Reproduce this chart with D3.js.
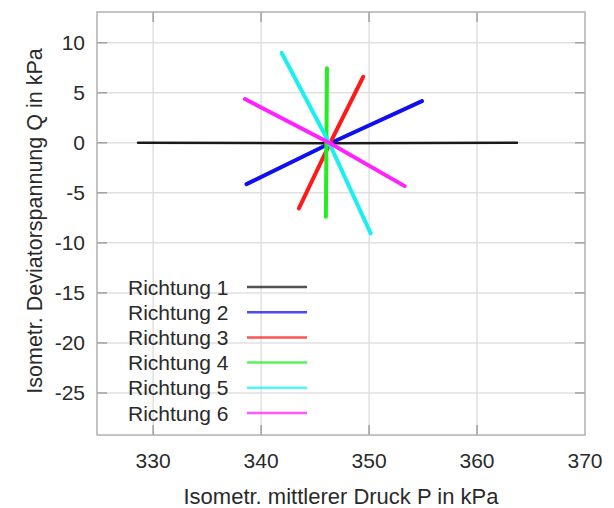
<!DOCTYPE html>
<meta charset="utf-8">
<style>
  body { margin: 0; background: #fff; }
  text { font-family: "Liberation Sans", Arial, sans-serif; fill: #2a2a2a; }
  .grid line { stroke: #e0e0e0; stroke-width: 1.5px; }
  .frame { fill: none; stroke: #b0b0b0; stroke-width: 1.5px; }
  .tick-mark { stroke: #a0a0a0; stroke-width: 1.5px; }
  .path { fill: none; stroke-linecap: round; stroke-linejoin: round; }
</style>
<svg width="614" height="508"></svg>
<script src="https://d3js.org/d3.v7.min.js"></script>
<script>
  // Data: [P, Q] points for each direction
  var names = ["Richtung 1", "Richtung 2", "Richtung 3", "Richtung 4", "Richtung 5", "Richtung 6"];
  var colors = ["#1a1a1a", "#1010ee", "#ff1a1a", "#22ee22", "#1af0f0", "#ff22ff"];
  var dir1 = [[328.6, 0.0], [346.3, -0.05], [363.7, 0.0]];
  var dir2 = [[338.65, -4.13], [346.3, -0.1], [354.9, 4.17]];
  var dir3 = [[343.5, -6.56], [346.4, 0.0], [349.46, 6.6]];
  var dir4 = [[346.0, -7.4], [346.05, 0.0], [346.1, 7.44]];
  var dir5 = [[341.9, 9.0], [346.3, 0.0], [350.15, -9.06]];
  var dir6 = [[338.5, 4.37], [346.3, 0.0], [353.3, -4.33]];
  var series = [dir1, dir2, dir3, dir4, dir5, dir6];
  var xTicks = [330, 340, 350, 360, 370];
  var yTicks = [10, 5, 0, -5, -10, -15, -20, -25];

  var svg = d3.select("svg");
  var margin = { top: 12, right: 29, bottom: 73, left: 97 },
    width = +svg.attr("width") - margin.left - margin.right,
    height = +svg.attr("height") - margin.top - margin.bottom;

  var x = d3.scaleLinear().domain([324.8, 370]).range([0, width]);
  var y = d3.scaleLinear().domain([-29.2, 13.07]).range([height, 0]);

  var g = svg.append("g")
    .attr("transform", "translate(" + margin.left + "," + margin.top + ")");

  // grid
  var grid = g.append("g").attr("class", "grid");
  grid.selectAll(".gx")
    .data(xTicks.filter(function (d) { return d < 370; }))
    .enter().append("line")
    .attr("x1", function (d) { return x(d); })
    .attr("x2", function (d) { return x(d); })
    .attr("y1", 0).attr("y2", height);
  grid.selectAll(".gy")
    .data(yTicks)
    .enter().append("line")
    .attr("y1", function (d) { return y(d); })
    .attr("y2", function (d) { return y(d); })
    .attr("x1", 0).attr("x2", width);

  // inward tick marks on all four sides
  var tl = 10;
  xTicks.filter(function (d) { return d < 370; }).forEach(function (d) {
    g.append("line").attr("class", "tick-mark")
      .attr("x1", x(d)).attr("x2", x(d)).attr("y1", height).attr("y2", height - tl);
    g.append("line").attr("class", "tick-mark")
      .attr("x1", x(d)).attr("x2", x(d)).attr("y1", 0).attr("y2", tl);
  });
  yTicks.forEach(function (d) {
    g.append("line").attr("class", "tick-mark")
      .attr("x1", 0).attr("x2", tl).attr("y1", y(d)).attr("y2", y(d));
    g.append("line").attr("class", "tick-mark")
      .attr("x1", width).attr("x2", width - tl).attr("y1", y(d)).attr("y2", y(d));
  });

  g.append("rect").attr("class", "frame")
    .attr("width", width).attr("height", height);

  // tick labels
  g.selectAll(".xl")
    .data(xTicks)
    .enter().append("text")
    .attr("x", function (d) { return x(d); })
    .attr("y", height + 33)
    .attr("text-anchor", "middle")
    .style("font-size", "21px")
    .text(function (d) { return d; });
  g.selectAll(".yl")
    .data(yTicks)
    .enter().append("text")
    .attr("x", -12)
    .attr("y", function (d) { return y(d) + 7.5; })
    .attr("text-anchor", "end")
    .style("font-size", "21px")
    .text(function (d) { return d; });

  // axis titles
  svg.append("text")
    .attr("x", 341)
    .attr("y", 504)
    .attr("text-anchor", "middle")
    .style("font-size", "22px")
    .text("Isometr. mittlerer Druck P in kPa");
  svg.append("text")
    .attr("transform", "translate(42,221) rotate(-90)")
    .attr("text-anchor", "middle")
    .style("font-size", "21.5px")
    .text("Isometr. Deviatorspannung Q in kPa");

  // data lines
  var line = d3.line()
    .x(function (d) { return x(d[0]); })
    .y(function (d) { return y(d[1]); });

  g.selectAll(".path")
    .data(series)
    .enter().append("path")
    .attr("class", "path")
    .attr("d", line)
    .attr("stroke", function (d, i) { return colors[i]; })
    .attr("stroke-width", function (d, i) { return i === 0 ? 2.5 : 4; });

  // legend
  var legend = g.append("g");
  names.forEach(function (n, i) {
    var ly = 275 + i * 25.2;
    legend.append("text")
      .attr("x", 31)
      .attr("y", ly + 7.5)
      .style("font-size", "21px")
      .text(n);
    legend.append("line")
      .attr("x1", 150).attr("x2", 210)
      .attr("y1", ly).attr("y2", ly)
      .attr("stroke", colors[i])
      .attr("stroke-opacity", 0.75)
      .attr("stroke-width", 2.5);
  });
</script>
